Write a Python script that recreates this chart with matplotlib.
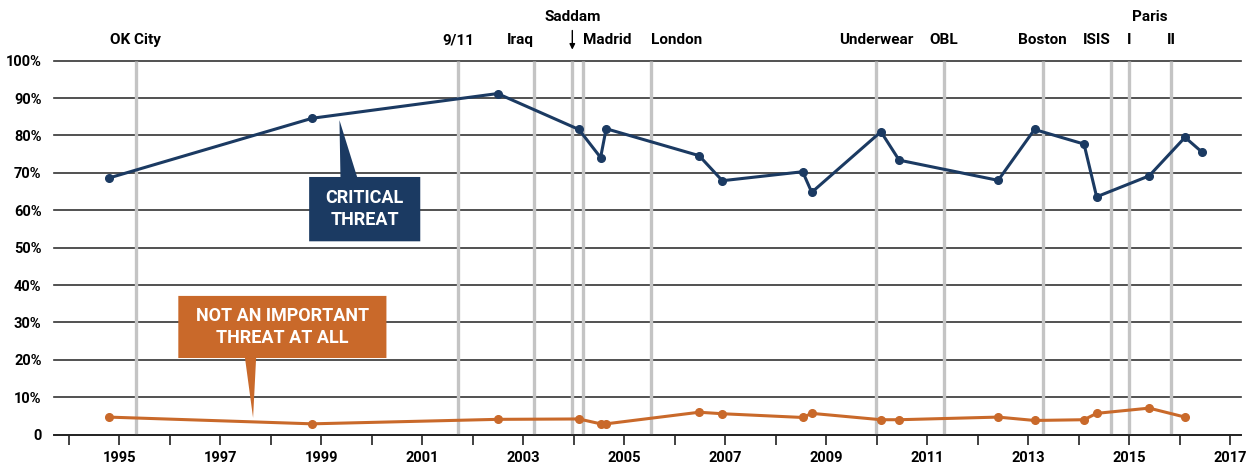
import matplotlib.pyplot as plt
import matplotlib.transforms as mtransforms
from matplotlib.patches import Polygon

plt.rcParams['font.family'] = ['Roboto', 'DejaVu Sans']
plt.rcParams['font.weight'] = 'bold'

# survey dates (decimal years) and shares of respondents
survey_dates = [1994.79, 1998.82, 2002.49, 2004.10, 2004.53, 2004.64, 2006.48, 2006.94,
                2008.53, 2008.71, 2010.08, 2010.44, 2012.40, 2013.12, 2014.10, 2014.35,
                2015.39, 2016.10, 2016.44]
critical = [68.6, 84.6, 91.2, 81.6, 74.1, 81.8, 74.6, 67.9, 70.3, 64.8,
            81.0, 73.4, 68.0, 81.6, 77.7, 63.6, 69.2, 79.5, 75.5]
not_important = [4.7, 2.9, 4.1, 4.2, 2.9, 2.9, 6.0, 5.6, 4.6, 5.7,
                 4.0, 4.0, 4.7, 3.8, 4.0, 5.7, 7.1, 4.7]

event_names = ['OK City', '9/11', 'Iraq', 'Saddam', 'Madrid', 'London',
               'Underwear', 'OBL', 'Boston', 'ISIS', 'I', 'II']
event_dates = [1995.33, 2001.71, 2003.21, 2003.97, 2004.19, 2005.52,
               2009.98, 2011.32, 2013.28, 2014.63, 2014.99, 2015.82]
event_align = ['center', 'center', 'right', 'center', 'left', 'left',
               'center', 'center', 'center', 'right', 'center', 'center']

year_labels = list(range(1995, 2018, 2))
y_ticks = list(range(0, 101, 10))
y_labels = ['0'] + [f'{v}%' for v in y_ticks[1:]]

navy = '#1b3a62'
orange = '#c9692a'

fig = plt.figure(figsize=(12.6, 4.68), dpi=100)
ax = fig.add_axes([0.0429, 0.0712, 0.9421, 0.7992])
ax.set_xlim(1993.71, 2017.21)
ax.set_ylim(0, 100)

# gridlines and axes
ax.set_yticks(y_ticks)
ax.set_yticklabels(y_labels, fontsize=10.5, fontweight='bold')
ax.yaxis.grid(True, color='#333333', lw=1.2, zorder=1)
for gl in ax.get_ygridlines():
    gl.set_clip_on(False)
ax.set_axisbelow(True)
ax.tick_params(axis='y', length=0, pad=9)

ax.set_xticks(year_labels)
ax.set_xticklabels([str(y) for y in year_labels], fontsize=10.5, fontweight='bold')
ax.set_xticks(range(1994, 2017, 2), minor=True)
ax.tick_params(axis='x', which='both', direction='out', length=7, width=1.3,
               color='#333333', pad=5)

for s in ['top', 'right', 'left']:
    ax.spines[s].set_visible(False)
ax.spines['bottom'].set_color('#222222')
ax.spines['bottom'].set_linewidth(1.3)

# event lines and labels
ax.vlines(event_dates, 0, 100, color='#c4c4c4', lw=2.4, zorder=2)
trans = mtransforms.blended_transform_factory(ax.transData, ax.transAxes)
for name, d, ha in zip(event_names, event_dates, event_align):
    if name == 'Saddam':
        ax.text(d, 1.117, name, transform=trans, ha='center', va='center',
                fontsize=11, fontweight='bold')
        ax.annotate('', xy=(d, 1.022), xytext=(d, 1.088), xycoords=trans,
                    textcoords=trans,
                    arrowprops=dict(arrowstyle='-|>', color='black', lw=1,
                                    mutation_scale=8))
        continue
    ax.text(d, 1.055, name, transform=trans, ha=ha, va='center',
            fontsize=11, fontweight='bold')
ax.text((event_dates[-2] + event_dates[-1]) / 2, 1.117, 'Paris', transform=trans,
        ha='center', va='center', fontsize=11, fontweight='bold')

# series
ax.plot(survey_dates, critical, color=navy, lw=2.2, marker='o', ms=5.5, zorder=5,
        clip_on=False)
ax.plot(survey_dates[:len(not_important)], not_important, color=orange, lw=2.2,
        marker='o', ms=5.5, zorder=5, clip_on=False)

# callouts
blue_box = Polygon([(1998.76, 51.7), (2000.96, 51.7), (2000.96, 68.9), (1999.71, 68.9),
                    (1999.36, 84.1), (1999.38, 68.9), (1998.76, 68.9)],
                   closed=True, facecolor=navy, edgecolor='none', zorder=4)
ax.add_patch(blue_box)
ax.text(1999.86, 60.3, 'CRITICAL\nTHREAT', color='white', ha='center', va='center',
        fontsize=13, fontweight='bold', linespacing=1.25, zorder=6)

orange_box = Polygon([(1996.17, 37.1), (2000.29, 37.1), (2000.29, 20.5), (1997.71, 20.5),
                      (1997.65, 4.5), (1997.49, 20.5), (1996.17, 20.5)],
                     closed=True, facecolor=orange, edgecolor='none', zorder=4)
ax.add_patch(orange_box)
ax.text(1998.23, 28.8, 'NOT AN IMPORTANT\nTHREAT AT ALL', color='white', ha='center',
        va='center', fontsize=13, fontweight='bold', linespacing=1.25, zorder=6)

fig.savefig('out.png', dpi=100)
